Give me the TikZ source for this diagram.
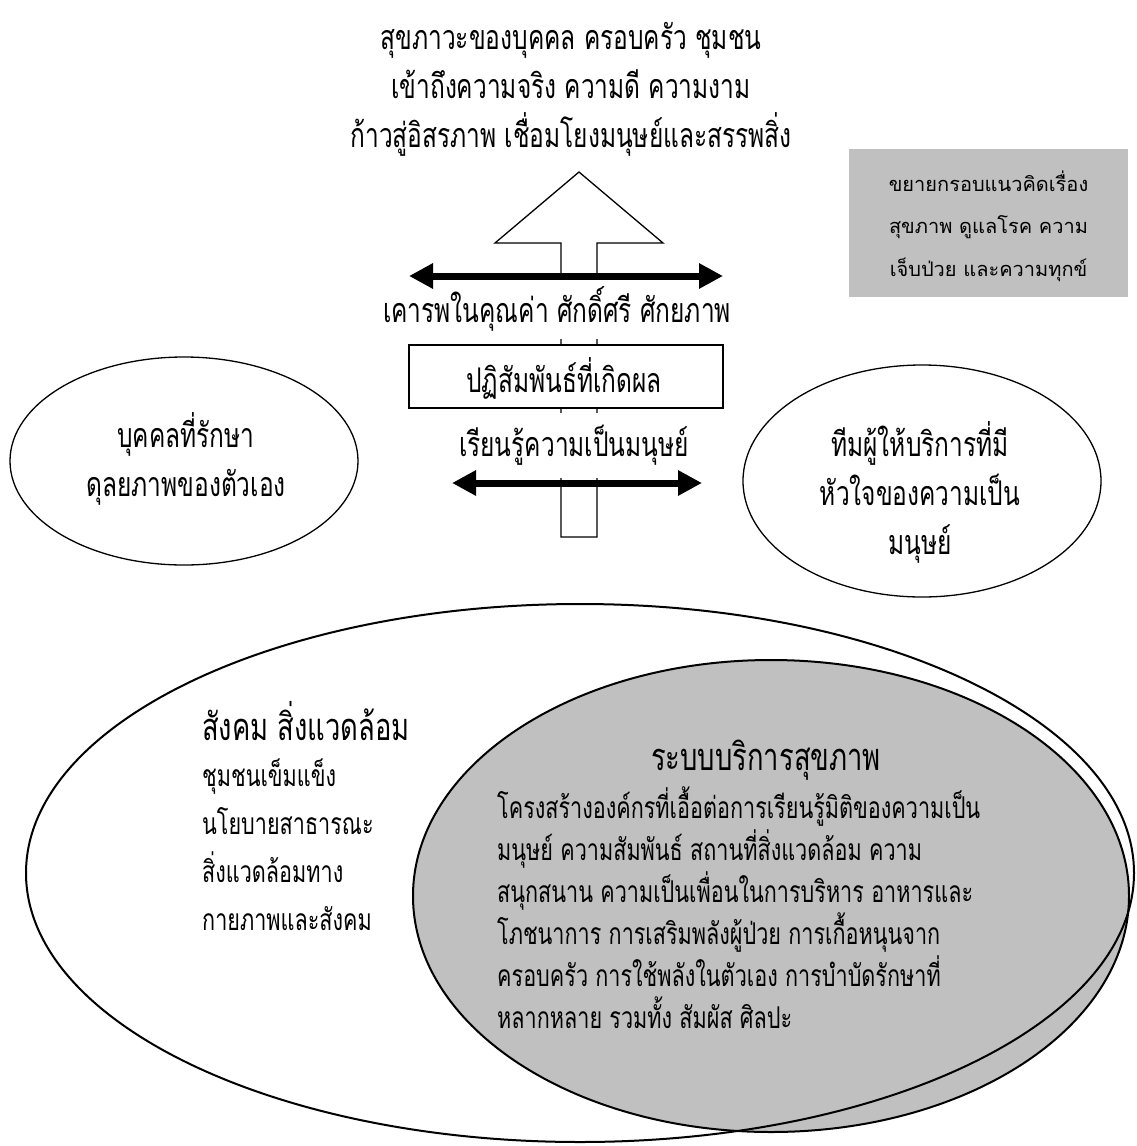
\documentclass[tikz,border=0pt]{standalone}
\usepackage{fontspec}
\usetikzlibrary{arrows.meta,shapes.geometric}
\newfontfamily\thai[Script=Thai,FakeStretch=0.72]{Loma}
\newfontfamily\thaisans[Script=Thai]{Loma}
\definecolor{shade}{HTML}{C0C0C0}
\begin{document}
\begin{tikzpicture}[x=1pt,y=-1pt,
  outline/.style={draw=black,line width=1.3pt},
  thickline/.style={draw=black,line width=2pt},
  bigarrow/.style={line width=7pt,{Triangle[length=24pt,width=24pt]}-{Triangle[length=24pt,width=24pt]}},
  midtext/.style={font=\fontsize{34}{49}\thai,inner sep=0pt,align=center},
  bigtext/.style={font=\fontsize{38}{49}\thai,inner sep=0pt},
  smalltext/.style={font=\fontsize{30}{42}\thai,inner sep=0pt,align=left},
  listtext/.style={font=\fontsize{30}{48}\thai,inner sep=0pt,align=left},
  boxtext/.style={font=\fontsize{20}{42.5}\thaisans,inner sep=0pt,align=center},
  ell/.style={ellipse,outline,inner sep=0pt}
]
\useasboundingbox (0,0) rectangle (1136,1146);

% top outcome text
\node[midtext] (outcome) at (571,89) {สุขภาวะของบุคคล ครอบครัว ชุมชน\\เข้าถึงความจริง ความดี ความงาม\\ก้าวสู่อิสรภาพ เชื่อมโยงมนุษย์และสรรพสิ่ง};

% grey note box
\node[fill=shade,minimum width=279pt,minimum height=148pt,inner sep=0pt] (note) at (988.5,223) {};
\node[boxtext] (notetext) at (988.5,226) {ขยายกรอบแนวคิดเรื่อง\\สุขภาพ ดูแลโรค ความ\\เจ็บป่วย และความทุกข์};

% up arrow shape
\coordinate (sbl) at (561,537);
\coordinate (sbr) at (597,537);
\coordinate (apex) at (579,172);
\draw[outline,fill=white] (sbl) -- (561,243) -- (495,243) -- (apex) -- (663,243) -- (597,243) -- (sbr) -- cycle;

% central texts
\node[midtext,fill=white,minimum height=60pt,inner xsep=2pt] (respect) at (557,309) {เคารพในคุณค่า ศักดิ์ศรี ศักยภาพ};
\node[outline,fill=white,minimum width=314pt,minimum height=63pt,inner sep=0pt] (interact) at (566,376.5) {};
\node[midtext] (interacttext) at (564,378) {ปฏิสัมพันธ์ที่เกิดผล};
\node[midtext,fill=white,minimum height=65pt,inner xsep=2pt] (learn) at (574,445.5) {เรียนรู้ความเป็นมนุษย์};

% horizontal double arrows
\coordinate (a1l) at (409,276);
\coordinate (a1r) at (723,276);
\draw[bigarrow] (a1l) -- (a1r);
\coordinate (a2l) at (452,483);
\coordinate (a2r) at (702,483);
\draw[bigarrow] (a2l) -- (a2r);

% side ellipses
\node[ell,minimum width=348pt,minimum height=208pt] (person) at (184,461) {};
\node[midtext] (persontext) at (186,459) {บุคคลที่รักษา\\ดุลยภาพของตัวเอง};
\node[ell,minimum width=358pt,minimum height=232pt] (team) at (922,481) {};
\node[midtext] (teamtext) at (920,492) {ทีมผู้ให้บริการที่มี\\หัวใจของความเป็น\\มนุษย์};

% bottom ellipses
\node[ellipse,thickline,fill=shade,minimum width=716pt,minimum height=472pt,inner sep=0pt] (health) at (771,896) {};
\node[ellipse,thickline,minimum width=1108pt,minimum height=538pt,inner sep=0pt] (society) at (580,873) {};

\node[bigtext,anchor=west] (soctitle) at (202,721) {สังคม สิ่งแวดล้อม};
\node[listtext,anchor=west] (soclist) at (202,845) {ชุมชนเข็มแข็ง\\นโยบายสาธารณะ\\สิ่งแวดล้อมทาง\\กายภาพและสังคม};

\node[bigtext] (healthtitle) at (766,760) {ระบบบริการสุขภาพ};
\node[smalltext,anchor=west] (healthbody) at (497,908) {โครงสร้างองค์กรที่เอื้อต่อการเรียนรู้มิติของความเป็น\\มนุษย์ ความสัมพันธ์ สถานที่สิ่งแวดล้อม ความ\\สนุกสนาน ความเป็นเพื่อนในการบริหาร อาหารและ\\โภชนาการ การเสริมพลังผู้ป่วย การเกื้อหนุนจาก\\ครอบครัว การใช้พลังในตัวเอง การบำบัดรักษาที่\\หลากหลาย รวมทั้ง สัมผัส ศิลปะ};
\end{tikzpicture}
\end{document}
